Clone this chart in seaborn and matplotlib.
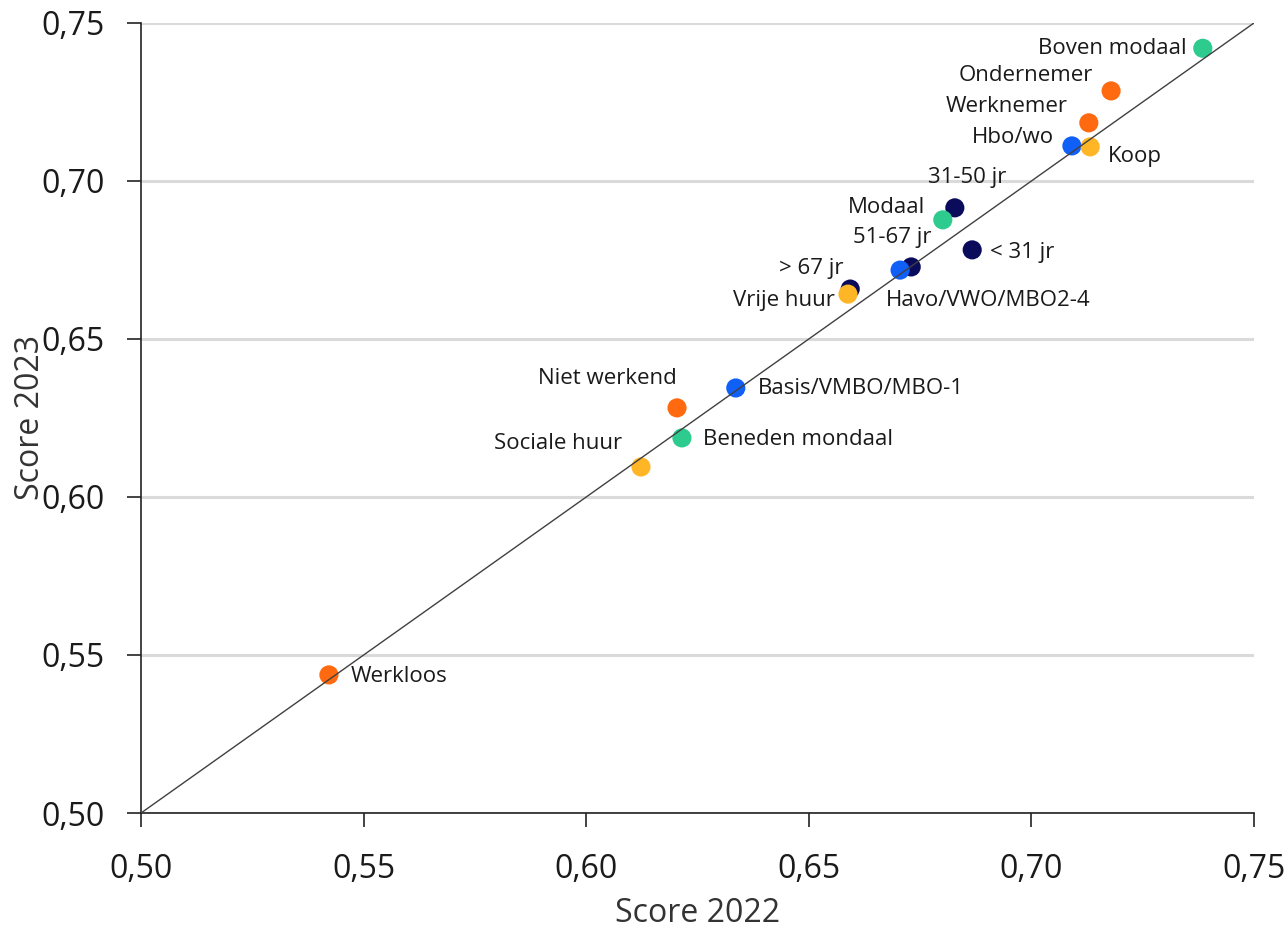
import numpy as np
import pandas as pd
import matplotlib
matplotlib.use('Agg')
import matplotlib.pyplot as plt
from matplotlib.ticker import FuncFormatter
import seaborn as sns

# data
labels = ['< 31 jr', '31-50 jr', '51-67 jr', '> 67 jr',
          'Boven modaal', 'Modaal', 'Beneden mondaal',
          'Ondernemer', 'Werknemer', 'Niet werkend', 'Werkloos',
          'Hbo/wo', 'Havo/VWO/MBO2-4', 'Basis/VMBO/MBO-1',
          'Koop', 'Vrije huur', 'Sociale huur']
groep = ['Leeftijd'] * 4 + ['Inkomen'] * 3 + ['Arbeid'] * 4 + ['Opleiding'] * 3 + ['Wonen'] * 3
score_2022 = [0.6867, 0.6828, 0.6730, 0.6593,
              0.7385, 0.6801, 0.6215,
              0.7179, 0.7129, 0.6204, 0.5422,
              0.7091, 0.6705, 0.6336,
              0.7132, 0.6588, 0.6123]
score_2023 = [0.6782, 0.6915, 0.6728, 0.6658,
              0.7420, 0.6877, 0.6187,
              0.7285, 0.7184, 0.6282, 0.5437,
              0.7111, 0.6718, 0.6345,
              0.7108, 0.6642, 0.6095]

groep_order = ['Leeftijd', 'Inkomen', 'Arbeid', 'Opleiding', 'Wonen']
palette = {'Leeftijd': '#0B0B5C', 'Inkomen': '#2DCB8E', 'Arbeid': '#FF6A10',
           'Opleiding': '#1060F8', 'Wonen': '#FFB626'}

# label offsets in pixels (dx, dy, ha)
offsets = {
    'Boven modaal': (-16, 0, 'right'), 'Ondernemer': (-18, 15, 'right'),
    'Werknemer': (-21, 16, 'right'), 'Hbo/wo': (-18, 8, 'right'),
    'Koop': (18, -10, 'left'), '31-50 jr': (12, 30, 'center'),
    'Modaal': (-18, 12, 'right'), '< 31 jr': (18, -3, 'left'),
    '51-67 jr': (-19, 29, 'center'), 'Havo/VWO/MBO2-4': (-14, -30, 'left'),
    '> 67 jr': (-7, 21, 'right'), 'Vrije huur': (-13, -6, 'right'),
    'Basis/VMBO/MBO-1': (22, -1, 'left'), 'Niet werkend': (0, 29, 'right'),
    'Beneden mondaal': (21, -2, 'left'), 'Sociale huur': (-19, 23, 'right'),
    'Werkloos': (22, -2, 'left'),
}

df = pd.DataFrame({'label': labels, 'groep': groep,
                   'x': score_2022, 'y': score_2023})
df['groep'] = pd.Categorical(df['groep'], groep_order)
df = df.sort_values('groep')

sns.set_style('white')
plt.rcParams['font.family'] = ['Open Sans', 'DejaVu Sans']

fig = plt.figure(figsize=(12.88, 9.30), dpi=100)
ax = fig.add_axes([0.1095, 0.1258, 0.8641, 0.8495])

sns.scatterplot(data=df, x='x', y='y', hue='groep', palette=palette,
                s=190, edgecolor='none', legend=False, ax=ax, zorder=3)
ax.plot([0.5, 0.75], [0.5, 0.75], color='#404040', lw=1.0, zorder=4)

for _, r in df.iterrows():
    dx, dy, ha = offsets[r['label']]
    ax.annotate(r['label'], (r['x'], r['y']), xytext=(dx, dy),
                textcoords='offset pixels', ha=ha, va='center',
                fontsize=16, color='#1a1a1a', zorder=5)

ax.set_xlim(0.5, 0.75)
ax.set_ylim(0.5, 0.75)
ticks = [0.50, 0.55, 0.60, 0.65, 0.70, 0.75]
ax.set_xticks(ticks)
ax.set_yticks(ticks)
fmt = FuncFormatter(lambda v, _: f"{v:.2f}".replace('.', ','))
ax.xaxis.set_major_formatter(fmt)
ax.yaxis.set_major_formatter(fmt)
ax.tick_params(axis='both', which='major', labelsize=23, length=10,
               width=1.2, color='#222222', labelcolor='#1a1a1a',
               direction='out', bottom=True, left=True)
ax.tick_params(axis='x', pad=19)
ax.tick_params(axis='y', pad=16)
ax.yaxis.grid(True, color='#DADADA', lw=2.2)
ax.set_axisbelow(True)
for s in ['top', 'right']:
    ax.spines[s].set_visible(False)
for s in ['left', 'bottom']:
    ax.spines[s].set_color('#222222')
    ax.spines[s].set_linewidth(1.2)

ax.set_xlabel('Score 2022', fontsize=23, color='#333333', labelpad=8)
ax.set_ylabel('Score 2023', fontsize=23, color='#333333', labelpad=-4)

fig.savefig('out.png', dpi=100)
